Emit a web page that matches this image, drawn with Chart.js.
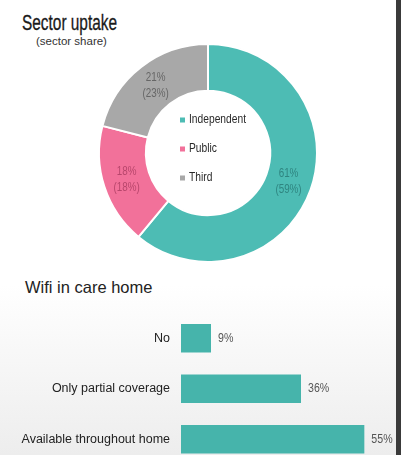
<!DOCTYPE html>
<html>
<head>
<meta charset="utf-8">
<script src="https://cdn.jsdelivr.net/npm/chart.js@4.4.1/dist/chart.umd.min.js"></script>
<style>
  html, body { margin: 0; padding: 0; }
  body { width: 401px; height: 455px; overflow: hidden; position: relative; background: #fff; font-family: "Liberation Sans", Arial, sans-serif; }
  .shade { position: absolute; left: 0; top: 285px; width: 401px; height: 170px; background: linear-gradient(#ffffff, #ededed); }
  .edge { position: absolute; left: 396px; top: 0; width: 5px; height: 455px; background: #3a3a3a; }
  .title { position: absolute; left: 22px; top: 10px; white-space: nowrap; }
  .title span { display: inline-block; font-size: 22px; color: #1a1a1a; transform: scaleX(0.7); transform-origin: 0 0; -webkit-text-stroke: 0.3px #1a1a1a; }
  .sub { position: absolute; left: 36px; top: 35px; font-size: 11.5px; color: #333; white-space: nowrap; }
  .title2 { position: absolute; left: 25px; top: 278px; font-size: 16.5px; color: #222; white-space: nowrap; }
  #donut { position: absolute; left: 93px; top: 38px; }
  #bars { position: absolute; left: 0; top: 300px; }
</style>
</head>
<body>
<div class="shade"></div>
<div class="title"><span>Sector uptake</span></div>
<div class="sub">(sector share)</div>
<div class="title2">Wifi in care home</div>
<canvas id="donut" width="230" height="230"></canvas>
<canvas id="bars" width="396" height="177"></canvas>
<div class="edge"></div>
<script>
// Sector uptake (doughnut)
const sectors = ["Independent", "Public", "Third"];
const sectorShare = [61, 18, 21];
const sectorPrev = [59, 18, 23];
const sectorColors = ["#4dbcb4", "#f2719a", "#a8a8a8"];
const sectorTextColors = ["#2f8580", "#b8466c", "#666666"];

// Wifi in care home (bars)
const wifiLabels = ["No", "Only partial coverage", "Available throughout home"];
const wifiValues = [9, 36, 55];

// draw horizontally squeezed text, to get the condensed look
function narrowText(ctx, text, x, y, sx) {
    ctx.save();
    ctx.translate(x, y);
    ctx.scale(sx, 1);
    ctx.fillText(text, 0, 0);
    ctx.restore();
}

const donutText = {
    id: "donutText",
    afterDraw(chart) {
        const ctx = chart.ctx;
        const meta = chart.getDatasetMeta(0);
        ctx.save();
        ctx.textAlign = "center";
        ctx.textBaseline = "middle";
        ctx.font = "12px 'Liberation Sans'";
        meta.data.forEach((arc, i) => {
            const p = arc.tooltipPosition();
            ctx.fillStyle = sectorTextColors[i];
            narrowText(ctx, sectorShare[i] + "%", p.x, p.y - 8, 0.82);
            narrowText(ctx, "(" + sectorPrev[i] + "%)", p.x, p.y + 8, 0.82);
        });
        // legend in the hole
        const cx = meta.data[0].x;
        const cy = meta.data[0].y;
        ctx.textAlign = "left";
        ctx.font = "12.5px 'Liberation Sans'";
        sectors.forEach((name, i) => {
            const y = cy - 33 + i * 29;
            ctx.fillStyle = sectorColors[i];
            ctx.fillRect(cx - 28, y - 2.5, 5, 5);
            ctx.fillStyle = "#2a2a2a";
            narrowText(ctx, name, cx - 19, y, 0.82);
        });
        ctx.restore();
    }
};

new Chart(document.getElementById("donut"), {
    type: "doughnut",
    data: {
        labels: sectors,
        datasets: [{
            data: sectorShare,
            backgroundColor: sectorColors,
            borderColor: "#ffffff",
            borderWidth: 2
        }]
    },
    options: {
        responsive: false,
        animation: false,
        radius: 109,
        cutout: "57%",
        layout: { padding: 0 },
        plugins: {
            legend: { display: false },
            tooltip: { enabled: false }
        }
    },
    plugins: [donutText]
});

const barValues = {
    id: "barValues",
    afterDatasetsDraw(chart) {
        const ctx = chart.ctx;
        const meta = chart.getDatasetMeta(0);
        ctx.save();
        ctx.font = "12.5px 'Liberation Sans'";
        ctx.fillStyle = "#555";
        ctx.textAlign = "left";
        ctx.textBaseline = "middle";
        meta.data.forEach((bar, i) => {
            narrowText(ctx, wifiValues[i] + "%", bar.x + 7, bar.y, 0.85);
        });
        ctx.restore();
    }
};

new Chart(document.getElementById("bars"), {
    type: "bar",
    data: {
        labels: wifiLabels,
        datasets: [{
            data: wifiValues,
            backgroundColor: "#46b4ab",
            borderWidth: 0,
            categoryPercentage: 1,
            barPercentage: 0.56
        }]
    },
    options: {
        indexAxis: "y",
        responsive: false,
        animation: false,
        layout: { padding: { top: 13, bottom: 12.5, left: 0, right: 15 } },
        scales: {
            x: { display: false, min: 0, max: 60 },
            y: {
                grid: { display: false },
                border: { display: false },
                ticks: {
                    color: "#222",
                    padding: 3,
                    font: { family: "Liberation Sans", size: 12.5 }
                },
                afterFit(scale) { scale.width = 181; }
            }
        },
        plugins: {
            legend: { display: false },
            tooltip: { enabled: false }
        }
    },
    plugins: [barValues]
});
</script>
</body>
</html>
